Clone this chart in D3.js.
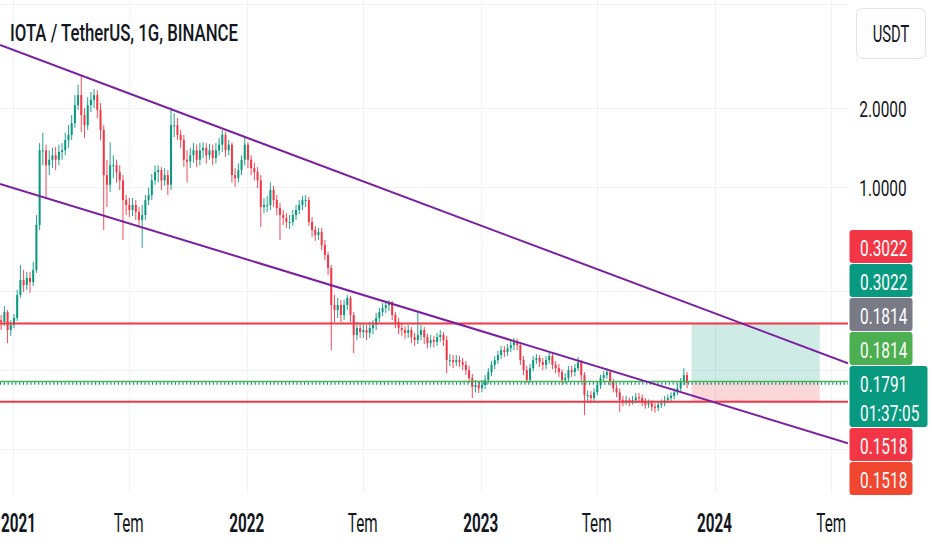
<!DOCTYPE html>
<html>
<head>
  <meta charset="utf-8">
  <title>IOTA / TetherUS, 1G, BINANCE</title>
  <script src="https://cdn.jsdelivr.net/npm/d3@7"></script>
  <style>
    body { margin: 0; background: #ffffff; }
    text { font-family: Roboto, "Noto Sans", sans-serif; }
  </style>
</head>
<body>
<script>
  // ---- data (5-day candles, first one on 2020-12-14) ----
  var firstDate = "2020-12-14";
  var stepDays = 5;
  var firstOpen = 0.311;

  var closes = [
    0.306,0.334,0.285,0.298,0.317,0.388,0.442,0.423,0.450,0.434,
    0.483,0.717,1.38,1.38,1.21,1.27,1.32,1.27,1.36,1.38,
    1.51,1.58,1.75,2.05,2.24,1.88,1.72,2.05,2.15,2.24,
    1.97,1.65,1.11,1.02,1.21,1.21,1.14,1.06,0.892,0.854,
    0.817,0.854,0.803,0.749,0.782,0.892,0.932,1.06,1.14,1.16,
    1.06,1.11,1.02,1.72,1.72,1.58,1.51,1.27,1.25,1.32,
    1.38,1.27,1.38,1.41,1.32,1.38,1.29,1.38,1.45,1.58,
    1.38,1.45,1.11,1.08,1.16,1.27,1.45,1.27,1.18,1.14,
    1.06,0.839,0.854,0.854,0.974,0.892,0.832,0.782,0.762,0.736,
    0.736,0.782,0.817,0.854,0.892,0.892,0.736,0.686,0.656,0.674,
    0.601,0.551,0.491,0.355,0.340,0.355,0.325,0.355,0.378,0.325,
    0.273,0.290,0.280,0.285,0.278,0.290,0.298,0.317,0.334,0.346,
    0.355,0.365,0.325,0.306,0.290,0.285,0.278,0.285,0.268,0.261,
    0.273,0.285,0.268,0.254,0.261,0.257,0.268,0.273,0.261,0.219,
    0.219,0.215,0.219,0.215,0.210,0.2005,0.187,0.173,0.176,0.171,
    0.176,0.184,0.197,0.210,0.219,0.229,0.239,0.235,0.243,0.250,
    0.257,0.250,0.219,0.2005,0.184,0.204,0.219,0.223,0.215,0.210,
    0.219,0.227,0.210,0.204,0.197,0.184,0.187,0.2005,0.197,0.204,
    0.215,0.192,0.161,0.161,0.157,0.165,0.176,0.187,0.192,0.197,
    0.181,0.171,0.165,0.154,0.151,0.154,0.151,0.154,0.158,0.157,
    0.151,0.148,0.150,0.145,0.144,0.148,0.150,0.154,0.157,0.160,
    0.165,0.171,0.181,0.192,0.1791
  ];

  var highs = [
    0.325,0.352,0.340,0.311,0.328,0.405,0.504,0.483,0.475,0.475,
    0.518,0.782,1.47,1.61,1.45,1.38,1.41,1.42,1.45,1.47,
    1.61,1.72,1.88,2.24,2.45,2.67,2.00,2.20,2.30,2.36,
    2.34,2.09,1.72,1.27,1.48,1.32,1.27,1.21,1.11,0.932,
    0.908,0.908,0.892,0.839,0.854,0.932,0.991,1.12,1.21,1.21,
    1.19,1.18,1.16,2.01,1.91,1.83,1.65,1.58,1.38,1.41,
    1.47,1.45,1.47,1.48,1.47,1.46,1.45,1.47,1.54,1.65,
    1.62,1.51,1.48,1.18,1.23,1.32,1.55,1.48,1.32,1.24,
    1.19,1.11,0.908,0.924,1.04,1.01,0.932,0.869,0.817,0.796,
    0.782,0.817,0.854,0.892,0.924,0.932,0.916,0.768,0.711,0.698,
    0.698,0.628,0.566,0.504,0.388,0.378,0.371,0.371,0.388,0.385,
    0.334,0.306,0.303,0.300,0.298,0.306,0.311,0.331,0.346,0.361,
    0.368,0.371,0.368,0.334,0.317,0.303,0.295,0.298,0.293,0.278,
    0.331,0.298,0.293,0.276,0.273,0.271,0.278,0.285,0.280,0.271,
    0.231,0.229,0.229,0.227,0.223,0.217,0.208,0.194,0.184,0.182,
    0.184,0.192,0.204,0.217,0.227,0.237,0.248,0.248,0.252,0.259,
    0.266,0.264,0.257,0.227,0.208,0.212,0.227,0.231,0.229,0.223,
    0.227,0.233,0.233,0.217,0.212,0.202,0.195,0.208,0.208,0.212,
    0.225,0.219,0.197,0.168,0.167,0.171,0.182,0.192,0.199,0.204,
    0.2005,0.186,0.176,0.171,0.160,0.160,0.158,0.160,0.164,0.164,
    0.162,0.157,0.155,0.154,0.150,0.153,0.155,0.160,0.162,0.165,
    0.171,0.178,0.187,0.204,0.197
  ];

  var lows = [
    0.285,0.295,0.254,0.271,0.290,0.308,0.378,0.398,0.405,0.395,
    0.419,0.470,0.686,1.21,0.908,1.11,1.18,1.16,1.21,1.27,
    1.32,1.41,1.51,1.68,1.97,1.62,1.54,1.65,1.93,2.00,
    1.83,1.51,0.686,0.839,0.957,1.08,1.04,0.974,0.628,0.782,
    0.768,0.775,0.749,0.704,0.585,0.749,0.854,0.892,1.02,1.04,
    0.974,1.01,0.932,0.974,1.55,1.51,1.41,1.19,1.04,1.18,
    1.24,1.19,1.21,1.29,1.23,1.27,1.21,1.23,1.32,1.36,
    1.30,1.32,1.04,1.00,1.04,1.11,1.21,1.18,1.11,1.06,
    0.991,0.704,0.796,0.803,0.817,0.839,0.782,0.628,0.717,0.698,
    0.692,0.711,0.749,0.789,0.817,0.839,0.711,0.645,0.623,0.628,
    0.575,0.527,0.462,0.239,0.306,0.317,0.306,0.311,0.340,0.306,
    0.233,0.261,0.266,0.266,0.261,0.266,0.275,0.285,0.306,0.322,
    0.331,0.337,0.311,0.290,0.275,0.271,0.264,0.266,0.254,0.248,
    0.252,0.261,0.252,0.243,0.245,0.245,0.248,0.257,0.248,0.195,
    0.208,0.204,0.208,0.206,0.2005,0.192,0.179,0.157,0.165,0.164,
    0.165,0.170,0.178,0.190,0.202,0.212,0.221,0.225,0.227,0.235,
    0.239,0.239,0.210,0.192,0.179,0.179,0.199,0.212,0.206,0.2005,
    0.202,0.212,0.202,0.195,0.189,0.176,0.178,0.182,0.189,0.190,
    0.199,0.181,0.135,0.151,0.150,0.151,0.161,0.170,0.182,0.186,
    0.175,0.165,0.158,0.139,0.146,0.148,0.146,0.148,0.150,0.151,
    0.146,0.143,0.144,0.140,0.138,0.140,0.144,0.146,0.150,0.153,
    0.155,0.161,0.167,0.176,0.171
  ];

  // drawings
  var upperTrend = [["2021-04-16", 2.67], ["2023-11-07", 0.371]];
  var lowerTrend = [["2021-02-22", 0.908], ["2023-11-07", 0.166]];
  var levels = [0.3022, 0.1518];
  var entryLevel = 0.1814;
  var lastPrice = 0.1791;
  var countdown = "01:37:05";
  var position = { start: "2023-11-26", end: "2024-06-13", entry: 0.1814, target: 0.3022, stop: 0.1518 };

  // axes
  var priceTicks = [5, 2, 1, 0.4, 0.2, 0.1];
  var timeTicks = ["2021-01-01", "2021-07-01", "2022-01-01", "2022-07-01", "2023-01-01", "2023-07-01", "2024-01-01", "2024-07-01"];
  var timeTickLabels = ["2021", "Tem", "2022", "Tem", "2023", "Tem", "2024", "Tem"];
  var timeTickBold = [true, false, true, false, true, false, true, false];

  // price scale labels, top to bottom
  var tagPrices = [0.3022, 0.3022, 0.1814, 0.1814, 0.1791, 0.1518, 0.1518];
  var tagColors = ["#f23645", "#089981", "#787b86", "#4caf50", "#089981", "#f23645", "#f1462f"];
  var currentTag = 4;

  var title = "IOTA / TetherUS, 1G, BINANCE";

  // ---- layout ----
  var W = 932, H = 550;
  var plotW = 848, plotH = 496;
  var upColor = "#089981", downColor = "#f23645";
  var gridColor = "#f0f2f5";

  var parseDay = d3.utcParse("%Y-%m-%d");

  var x = d3.scaleUtc()
    .domain([parseDay("2021-01-01"), parseDay("2024-01-01")])
    .range([12.7, 714.6]);
  var y = d3.scaleLog()
    .domain([2, 1])
    .range([108, 187]);

  var start = parseDay(firstDate);
  var candles = closes.map(function (c, i) {
    var o = i === 0 ? firstOpen : closes[i - 1];
    return {
      date: d3.utcDay.offset(start, i * stepDays),
      open: o,
      close: c,
      high: Math.max(highs[i], o, c),
      low: Math.min(lows[i], o, c)
    };
  });

  var svg = d3.select("body").append("svg")
    .attr("width", W)
    .attr("height", H);

  svg.append("rect").attr("width", W).attr("height", H).attr("fill", "#ffffff");

  svg.append("clipPath").attr("id", "plotclip")
    .append("rect").attr("width", plotW).attr("height", plotH);

  // grid
  var grid = svg.append("g");
  grid.selectAll(".hgrid").data(priceTicks).enter().append("line")
    .attr("x1", 0).attr("x2", plotW)
    .attr("y1", function (d) { return Math.round(y(d)) + 0.5; })
    .attr("y2", function (d) { return Math.round(y(d)) + 0.5; })
    .attr("stroke", gridColor);
  grid.selectAll(".vgrid").data(timeTicks).enter().append("line")
    .attr("x1", function (d) { return Math.round(x(parseDay(d))) + 0.5; })
    .attr("x2", function (d) { return Math.round(x(parseDay(d))) + 0.5; })
    .attr("y1", 0).attr("y2", plotH - 3)
    .attr("stroke", gridColor);

  var plot = svg.append("g").attr("clip-path", "url(#plotclip)");

  // long position box
  var px0 = x(parseDay(position.start)), px1 = x(parseDay(position.end));
  plot.append("rect")
    .attr("x", px0).attr("width", px1 - px0)
    .attr("y", y(position.target)).attr("height", y(position.entry) - y(position.target))
    .attr("fill", "rgba(8,153,129,0.2)");
  plot.append("rect")
    .attr("x", px0).attr("width", px1 - px0)
    .attr("y", y(position.entry)).attr("height", y(position.stop) - y(position.entry))
    .attr("fill", "rgba(242,54,69,0.2)");

  // candles
  var bodyW = 2;
  var cg = plot.selectAll(".candle").data(candles).enter().append("g")
    .attr("class", "candle");
  cg.append("line")
    .attr("x1", function (d) { return x(d.date); })
    .attr("x2", function (d) { return x(d.date); })
    .attr("y1", function (d) { return y(d.high); })
    .attr("y2", function (d) { return y(d.low); })
    .attr("stroke", function (d) { return d.close >= d.open ? upColor : downColor; })
    .attr("stroke-width", 0.9);
  cg.append("rect")
    .attr("x", function (d) { return x(d.date) - bodyW / 2; })
    .attr("width", bodyW)
    .attr("y", function (d) { return y(Math.max(d.open, d.close)); })
    .attr("height", function (d) { return Math.max(1, Math.abs(y(d.open) - y(d.close))); })
    .attr("fill", function (d) { return d.close >= d.open ? upColor : downColor; });

  // horizontal levels
  plot.selectAll(".level").data(levels).enter().append("line")
    .attr("x1", 0).attr("x2", plotW)
    .attr("y1", function (d) { return y(d); })
    .attr("y2", function (d) { return y(d); })
    .attr("stroke", "#f23645")
    .attr("stroke-width", 2);

  plot.append("line")
    .attr("x1", 0).attr("x2", plotW)
    .attr("y1", y(entryLevel)).attr("y2", y(entryLevel))
    .attr("stroke", "#4caf50").attr("stroke-width", 1.5);
  plot.append("line")
    .attr("x1", 0).attr("x2", plotW)
    .attr("y1", y(lastPrice) + 0.5).attr("y2", y(lastPrice) + 0.5)
    .attr("stroke", "#089981").attr("stroke-width", 2.5)
    .attr("stroke-dasharray", "1.2,2.6");

  // trend lines, extended across the pane
  function trend(pts) {
    var ax = x(parseDay(pts[0][0])), ay = y(pts[0][1]);
    var bx = x(parseDay(pts[1][0])), by = y(pts[1][1]);
    var k = (by - ay) / (bx - ax);
    return [[0, ay - k * ax], [plotW, ay + k * (plotW - ax)]];
  }
  [upperTrend, lowerTrend].forEach(function (pts) {
    var seg = trend(pts);
    plot.append("line")
      .attr("x1", seg[0][0]).attr("y1", seg[0][1])
      .attr("x2", seg[1][0]).attr("y2", seg[1][1])
      .attr("stroke", "#7b1fa2")
      .attr("stroke-width", 2);
  });

  // text helper: the screenshot is squeezed horizontally
  function label(g, tx, ty, str, size, weight, fill, anchor, sx) {
    return g.append("text")
      .attr("transform", "translate(" + tx + "," + ty + ") scale(" + sx + ",1)")
      .attr("text-anchor", anchor)
      .style("font-size", size + "px")
      .style("font-weight", weight)
      .attr("fill", fill)
      .text(str);
  }

  // title
  svg.append("text")
    .attr("x", 10).attr("y", 41)
    .attr("textLength", 228).attr("lengthAdjust", "spacingAndGlyphs")
    .style("font-size", "24px").style("font-weight", 500)
    .attr("fill", "#131722")
    .text(title);

  // stacked price tags on the price scale
  var tagH = 34, curH = 61;
  var tops = new Array(tagPrices.length);
  tops[currentTag] = y(tagPrices[currentTag]) - 17;
  for (var i = currentTag - 1; i >= 0; i--) {
    tops[i] = Math.min(y(tagPrices[i]) - 17, tops[i + 1] - tagH);
  }
  tops[currentTag + 1] = Math.max(y(tagPrices[currentTag + 1]) - 17, tops[currentTag] + curH + 1);
  for (var j = currentTag + 2; j < tagPrices.length; j++) {
    tops[j] = Math.max(y(tagPrices[j]) - 17, tops[j - 1] + tagH);
  }

  // price axis tick labels, hidden where a tag covers them
  var axisG = svg.append("g");
  priceTicks.forEach(function (p) {
    var py = y(p);
    if (py < 20) return;
    var covered = tops.some(function (t, k) {
      var h = k === currentTag ? curH : tagH;
      return py > t - 8 && py < t + h + 8;
    });
    if (covered) return;
    label(axisG, 883, py + 8.5, d3.format(".4f")(p), 22, 400, "#131722", "middle", 0.7);
  });

  var tagG = svg.append("g");
  tagPrices.forEach(function (p, k) {
    var h = k === currentTag ? curH : tagH - 1;
    var w = k === currentTag ? 78 : 63;
    tagG.append("rect")
      .attr("x", 849.5).attr("y", tops[k])
      .attr("width", w).attr("height", h)
      .attr("rx", 3)
      .attr("fill", tagColors[k]);
    label(tagG, 860, tops[k] + 26, d3.format(".4f")(p), 22, 400, "#ffffff", "start", 0.7);
    if (k === currentTag) {
      label(tagG, 860, tops[k] + 54.5, countdown, 22, 400, "#ffffff", "start", 0.7);
    }
  });

  // currency button
  svg.append("rect")
    .attr("x", 856.5).attr("y", 8.5).attr("width", 69).attr("height", 50)
    .attr("rx", 6)
    .attr("fill", "#ffffff").attr("stroke", "#e0e3eb");
  label(svg, 891, 41.5, "USDT", 23.5, 400, "#131722", "middle", 0.63);

  // time axis (first label kept inside the left edge)
  var timeG = svg.append("g");
  timeTicks.forEach(function (d, k) {
    var tx = x(parseDay(d));
    var t = label(timeG, tx, 531.5, timeTickLabels[k], 25,
      timeTickBold[k] ? 700 : 400, "#131722", "middle", 0.61);
    var half = t.node().getBBox().width * 0.61 / 2;
    if (tx - half < 1) {
      t.attr("transform", "translate(" + (half + 1) + ",531.5) scale(0.61,1)");
    }
  });
</script>
</body>
</html>
